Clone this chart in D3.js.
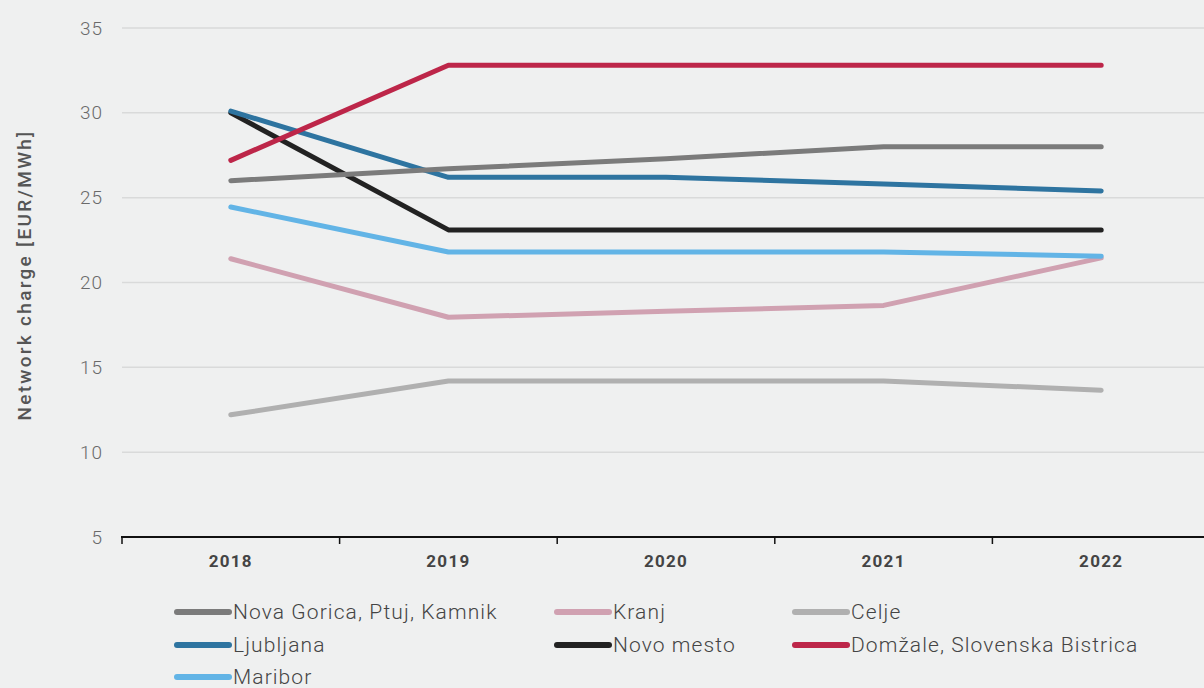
<!DOCTYPE html>
<html><head><meta charset="utf-8">
<script src="https://cdn.jsdelivr.net/npm/d3@7"></script>
<style>
html,body{margin:0;padding:0;background:#eff0f0;}
svg{display:block;}
</style></head>
<body>
<script>
const years = ["2018","2019","2020","2021","2022"];
const yTicks = [5,10,15,20,25,30,35];
const novaGorica = [26.0, 26.7, 27.3, 28.0, 28.0];
const kranj = [21.4, 17.95, 18.3, 18.65, 21.45];
const celje = [12.2, 14.2, 14.2, 14.2, 13.65];
const ljubljana = [30.1, 26.2, 26.2, 25.8, 25.4];
const novoMesto = [30.0, 23.1, 23.1, 23.1, 23.1];
const domzale = [27.2, 32.8, 32.8, 32.8, 32.8];
const maribor = [24.45, 21.8, 21.8, 21.8, 21.55];
const seriesNames = ["Nova Gorica, Ptuj, Kamnik","Kranj","Celje","Ljubljana","Novo mesto","Domžale, Slovenska Bistrica","Maribor"];
const seriesColors = ["#7b7b7b","#d0a1b1","#b0b0b0","#2e74a0","#222222","#bd2649","#62b4e6"];
const seriesValues = [novaGorica,kranj,celje,ljubljana,novoMesto,domzale,maribor];

const W=1204,H=688;
const svg=d3.select("body").append("svg").attr("width",W).attr("height",H);
svg.append("rect").attr("width",W).attr("height",H).attr("fill","#eff0f0");

const x=d3.scaleBand().domain(years).range([122,1210]);
const y=d3.scaleLinear().domain([5,35]).range([537,28]);

// gridlines
svg.append("g").selectAll("line").data(yTicks.filter(d=>d>5)).join("line")
  .attr("x1",122).attr("x2",W).attr("y1",d=>y(d)).attr("y2",d=>y(d))
  .attr("stroke","#d9dada").attr("stroke-width",1.5);

// y tick labels
svg.append("g").selectAll("text").data(yTicks).join("text")
  .attr("x",103).attr("y",d=>y(d)).attr("dy","0.35em").attr("text-anchor","end")
  .attr("font-family","Roboto").attr("font-weight",300).attr("font-size",19)
  .attr("letter-spacing",1).attr("fill","#6a6a6a")
  .text(d=>d);

// x axis
const xAxis=d3.axisBottom(x).tickSize(0).tickFormat(d=>d);
const gx=svg.append("g").attr("transform",`translate(0,${y(5)})`).call(xAxis);
gx.select(".domain").remove();
gx.selectAll("text").attr("dy",0).attr("y",30).attr("font-family","Roboto")
  .attr("font-weight",700).attr("font-size",17).attr("letter-spacing",1.3).attr("fill","#444");
svg.append("line").attr("x1",121).attr("x2",W).attr("y1",y(5)).attr("y2",y(5)).attr("stroke","#111").attr("stroke-width",2);
const bounds=years.map(d=>x(d)).concat([x(years[years.length-1])+x.bandwidth()]);
svg.append("g").selectAll("line").data(bounds).join("line")
  .attr("x1",d=>d).attr("x2",d=>d).attr("y1",y(5)).attr("y2",y(5)+7)
  .attr("stroke","#111").attr("stroke-width",1.5);

// y title
svg.append("text").attr("transform","translate(31,275) rotate(-90)").attr("text-anchor","middle")
  .attr("font-family","Roboto").attr("font-weight",500).attr("font-size",19)
  .attr("letter-spacing",2.3).attr("fill","#555")
  .text("Network charge [EUR/MWh]");

// lines
const line=d3.line().x((d,i)=>x(years[i])+x.bandwidth()/2).y(d=>y(d));
const order=[2,1,6,4,3,0,5];
svg.append("g").selectAll("path").data(order).join("path")
  .attr("d",i=>line(seriesValues[i])).attr("fill","none")
  .attr("stroke",i=>seriesColors[i]).attr("stroke-width",5)
  .attr("stroke-linecap","round").attr("stroke-linejoin","round");

// legend
const colX=[174,554,792], rowY=[612,645,677];
const lg=svg.append("g").selectAll("g").data(seriesNames).join("g")
  .attr("transform",(d,i)=>`translate(${colX[i%3]},${rowY[Math.floor(i/3)]})`);
lg.append("line").attr("x1",3).attr("x2",55).attr("stroke",(d,i)=>seriesColors[i])
  .attr("stroke-width",6).attr("stroke-linecap","round");
lg.append("text").attr("x",59).attr("dy","0.35em").attr("font-family","Roboto")
  .attr("font-weight",300).attr("font-size",21).attr("letter-spacing",1.1).attr("fill","#444").text(d=>d);
</script>
</body></html>
